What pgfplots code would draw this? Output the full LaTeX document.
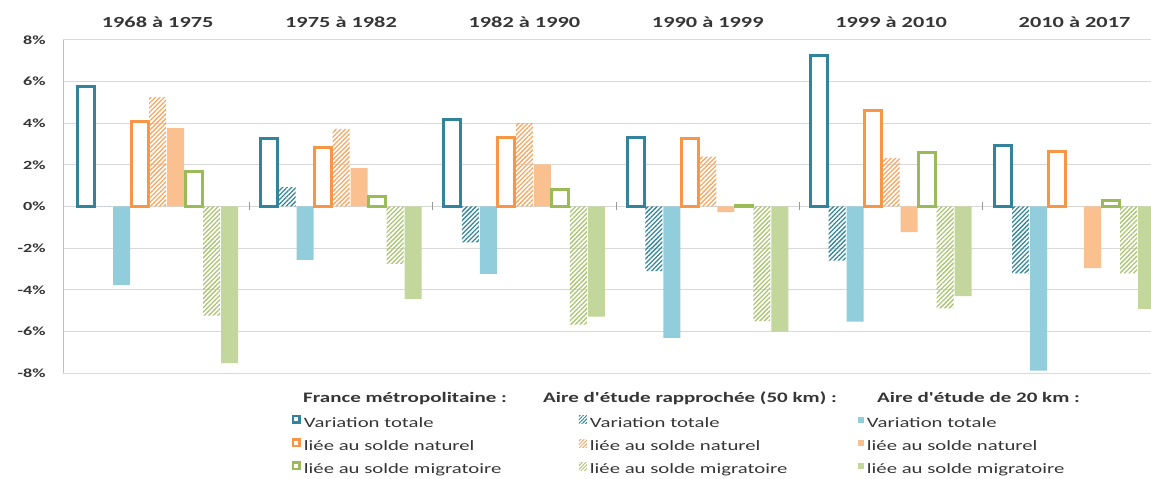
\documentclass[border=0pt]{standalone}
\usepackage{fontspec}
\setmainfont{Carlito}[FakeStretch=1.45, Ligatures=TeXOff]
\usepackage{pgfplots}
\usepackage{pgfplotstable}
\pgfplotsset{compat=1.18}
\usetikzlibrary{patterns.meta}

\definecolor{cTeal}{HTML}{31849B}
\definecolor{cBlue}{HTML}{92CDDC}
\definecolor{cOrange}{HTML}{F79646}
\definecolor{cOrangeL}{HTML}{FAC090}
\definecolor{cGreen}{HTML}{9BBB59}
\definecolor{cGreenL}{HTML}{C3D69B}
\definecolor{cGrid}{HTML}{D9D9D9}
\definecolor{cText}{HTML}{363636}

% variation de population par periode (en %)
\pgfplotstableread{
x frtot c50tot c20tot frnat c50nat c20nat frmig c50mig c20mig
0 5.75  0     -3.76 4.10 5.26  3.77 1.66 -5.24 -7.53
1 3.27  0.93  -2.56 2.82 3.73  1.84 0.47 -2.76 -4.44
2 4.18 -1.72  -3.24 3.32 4.00  2.02 0.80 -5.67 -5.29
3 3.32 -3.11  -6.31 3.27 2.40 -0.27 0.07 -5.51 -6.01
4 7.24 -2.60  -5.53 4.62 2.34 -1.23 2.60 -4.89 -4.31
5 2.95 -3.21  -7.88 2.66 0    -2.96 0.28 -3.21 -4.92
}\datatable

\pgfplotsset{
  outl/.style={draw=#1, fill=white, line width=3pt,
    legend image code/.code={\draw[draw=#1, fill=white, line width=2.5pt] (1.25pt,0.25pt) rectangle (7.75pt,6.75pt);}},
  hatch/.style={draw=none, pattern={Lines[angle=45,distance=3.2pt,line width=1.3pt]}, pattern color=#1,
    legend image code/.code={\path[pattern={Lines[angle=45,distance=2.5pt,line width=1pt]}, pattern color=#1] (0pt,-1pt) rectangle (8pt,7pt);}},
  plain/.style={draw=none, fill=#1,
    legend image code/.code={\fill[#1] (1pt,0pt) rectangle (7pt,6pt);}},
}

\begin{document}
\begin{tikzpicture}
\useasboundingbox (0,0) rectangle (1151pt,479pt);
\begin{axis}[
  at={(63pt,106pt)}, anchor=south west,
  width=1088pt, height=333pt, scale only axis,
  xmin=-0.516, xmax=5.417, ymin=-8, ymax=8,
  ybar=1pt, bar width=17pt,
  axis line style={draw=none},
  major tick length=0pt,
  xtick={0,1,2,3,4,5},
  xticklabels={1968 à 1975,1975 à 1982,1982 à 1990,1990 à 1999,1999 à 2010,2010 à 2017},
  xticklabel pos=upper,
  xticklabel style={font=\fontsize{15.4}{18}\selectfont\bfseries, text=cText, yshift=9pt},
  ytick={-8,-6,-4,-2,0,2,4,6,8},
  yticklabels={-8\%,-6\%,-4\%,-2\%,0\%,2\%,4\%,6\%,8\%},
  yticklabel style={font=\fontsize{12.5}{14}\selectfont\bfseries, text=cText, xshift=-14pt},
  ymajorgrids, grid style={draw=cGrid, line width=1pt},
  legend columns=3,
  legend cell align=left,
  legend style={draw=none, fill=none, at={(axis description cs:0.2075,-0.119)}, anchor=north west,
    font=\fontsize{14.3}{16}\selectfont, text=cText, row sep=9.5pt,
    nodes={inner sep=0pt},
    /tikz/every odd column/.append style={column sep=3pt}},
]
\addplot[outl=cTeal] table[x=x,y=frtot]{\datatable};
\addplot[hatch=cTeal] table[x=x,y=c50tot]{\datatable};
\addplot[plain=cBlue] table[x=x,y=c20tot]{\datatable};
\addplot[outl=cOrange] table[x=x,y=frnat]{\datatable};
\addplot[hatch=cOrange!85] table[x=x,y=c50nat]{\datatable};
\addplot[plain=cOrangeL] table[x=x,y=c20nat]{\datatable};
\addplot[outl=cGreen] table[x=x,y=frmig]{\datatable};
\addplot[hatch=cGreen!85] table[x=x,y=c50mig]{\datatable};
\addplot[plain=cGreenL] table[x=x,y=c20mig]{\datatable};
\legend{\makebox[275pt][l]{Variation totale},\makebox[268pt][l]{Variation totale},Variation totale,
  liée au solde naturel,liée au solde naturel,liée au solde naturel,
  liée au solde migratoire,liée au solde migratoire,liée au solde migratoire}
% axe vertical et separateurs de periodes
\draw[draw=black!25, line width=1pt] (rel axis cs:0,0) -- (rel axis cs:0,1);
\draw[draw=black!40, line width=1pt] ([yshift=-4pt]axis cs:0.5,0) -- ([yshift=4pt]axis cs:0.5,0);
\draw[draw=black!40, line width=1pt] ([yshift=-4pt]axis cs:1.5,0) -- ([yshift=4pt]axis cs:1.5,0);
\draw[draw=black!40, line width=1pt] ([yshift=-4pt]axis cs:2.5,0) -- ([yshift=4pt]axis cs:2.5,0);
\draw[draw=black!40, line width=1pt] ([yshift=-4pt]axis cs:3.5,0) -- ([yshift=4pt]axis cs:3.5,0);
\draw[draw=black!40, line width=1pt] ([yshift=-4pt]axis cs:4.5,0) -- ([yshift=4pt]axis cs:4.5,0);
\end{axis}
\begin{scope}[every node/.style={anchor=base west, inner sep=0pt, text=cText, font=\fontsize{14.5}{16}\selectfont\bfseries}]
\node at (303pt,76pt) {France métropolitaine :};
\node at (543pt,76pt) {Aire d'étude rapprochée (50 km) :};
\node at (877pt,76pt) {Aire d'étude de 20 km :};
\end{scope}
\end{tikzpicture}
\end{document}
